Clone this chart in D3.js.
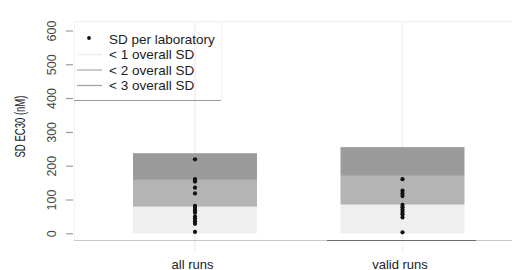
<!DOCTYPE html>
<html><head><meta charset="utf-8">
<script src="https://cdn.jsdelivr.net/npm/d3@7"></script>
<style>body{margin:0;background:#fff}svg{display:block;font-family:"Liberation Sans",Arial,sans-serif}</style>
</head><body><svg id="c" width="512" height="270"></svg>
<script>
const categories = ["all runs", "valid runs"];
const overallSD = [79, 85];
const labSDAll = [219, 160, 153, 135, 118, 81, 75, 68, 61, 50, 44, 36, 28, 4];
const labSDValid = [160, 126, 118, 110, 84, 77, 70, 63, 56, 47, 3];
const yTicks = [0, 100, 200, 300, 400, 500, 600];
const legendLabels = ["SD per laboratory", "< 1 overall SD", "< 2 overall SD", "< 3 overall SD"];
const bandColors = ["#efefef", "#b4b4b4", "#9b9b9b"];
const legendLineColors = ["#ececec", "#b0b0b0", "#a4a4a4"];

const svg = d3.select("#c");
const y = d3.scaleLinear().domain([0, 600]).range([233.3, 30.5]);
const x = d3.scalePoint().domain(categories).range([195, 402.5]);
const halfW = 62;
const labSD = [labSDAll, labSDValid];

// faint frame / grid
svg.append("line").attr("x1", 74).attr("x2", 512).attr("y1", 21.5).attr("y2", 21.5).attr("stroke", "#f3f3f3").attr("stroke-width", 1.5);
svg.append("line").attr("x1", 74.5).attr("x2", 74.5).attr("y1", 21).attr("y2", 240).attr("stroke", "#f3f3f3");
categories.forEach(c => {
  svg.append("line").attr("x1", x(c)).attr("x2", x(c)).attr("y1", 21).attr("y2", 252).attr("stroke", "#f4f4f4").attr("stroke-width", 2);
});

// bands
categories.forEach((c, i) => {
  const s = overallSD[i];
  [0, 1, 2].forEach(k => {
    svg.append("rect")
      .attr("x", x(c) - halfW).attr("width", halfW * 2)
      .attr("y", y(s * (k + 1))).attr("height", y(s * k) - y(s * (k + 1)))
      .attr("fill", bandColors[k]);
  });
});

// bottom axis line
svg.append("line").attr("x1", 74).attr("x2", 512).attr("y1", 240.5).attr("y2", 240.5).attr("stroke", "#c8c8c8");
svg.append("line").attr("x1", 327).attr("x2", 476).attr("y1", 240.5).attr("y2", 240.5).attr("stroke", "#6a6a6a");

// dots
categories.forEach((c, i) => {
  svg.selectAll(null).data(labSD[i]).enter().append("circle")
    .attr("cx", x(c)).attr("cy", d => y(d)).attr("r", 2.1).attr("fill", "#111");
});

// y axis
const yAxis = svg.append("g").attr("transform", "translate(73,0)")
  .call(d3.axisLeft(y).tickValues(yTicks).tickSize(7).tickPadding(0).tickFormat(d3.format("d")));
yAxis.select(".domain").remove();
yAxis.selectAll(".tick line").attr("stroke", "#8a8a8a");
yAxis.selectAll(".tick text").attr("transform", "rotate(-90)").attr("x", 0).attr("y", -21)
  .attr("dy", "0.35em").attr("text-anchor", "middle").attr("font-size", 12.5).attr("fill", "#444")
  .attr("font-family", "Liberation Sans, Arial, sans-serif");

// y label
svg.append("text").attr("transform", "translate(25,126.5) rotate(-90)").attr("text-anchor", "middle")
  .attr("font-size", 14).attr("fill", "#222")
  .attr("textLength", 62).attr("lengthAdjust", "spacingAndGlyphs").text("SD EC30 (nM)");

// x labels
categories.forEach(c => {
  svg.append("text").attr("x", x(c) - 2.5).attr("y", 268.5).attr("text-anchor", "middle")
    .attr("font-size", 13).attr("fill", "#222").text(c);
});

// legend
svg.append("line").attr("x1", 221.5).attr("x2", 221.5).attr("y1", 21).attr("y2", 100).attr("stroke", "#f0f0f0");
svg.append("line").attr("x1", 74).attr("x2", 221).attr("y1", 100.5).attr("y2", 100.5).attr("stroke", "#9a9a9a");
const rowY = [39.5, 54.5, 70, 85.5];
svg.append("circle").attr("cx", 89).attr("cy", rowY[0] - 1.5).attr("r", 1.9).attr("fill", "#111");
[1, 2, 3].forEach(k => {
  svg.append("line").attr("x1", 77).attr("x2", 102).attr("y1", rowY[k]).attr("y2", rowY[k])
    .attr("stroke", legendLineColors[k - 1]).attr("stroke-width", 1.3);
});
legendLabels.forEach((t, k) => {
  svg.append("text").attr("x", 109).attr("y", rowY[k]).attr("dy", "0.35em")
    .attr("font-size", 13.5).attr("fill", "#222").text(t);
});
</script></body></html>
